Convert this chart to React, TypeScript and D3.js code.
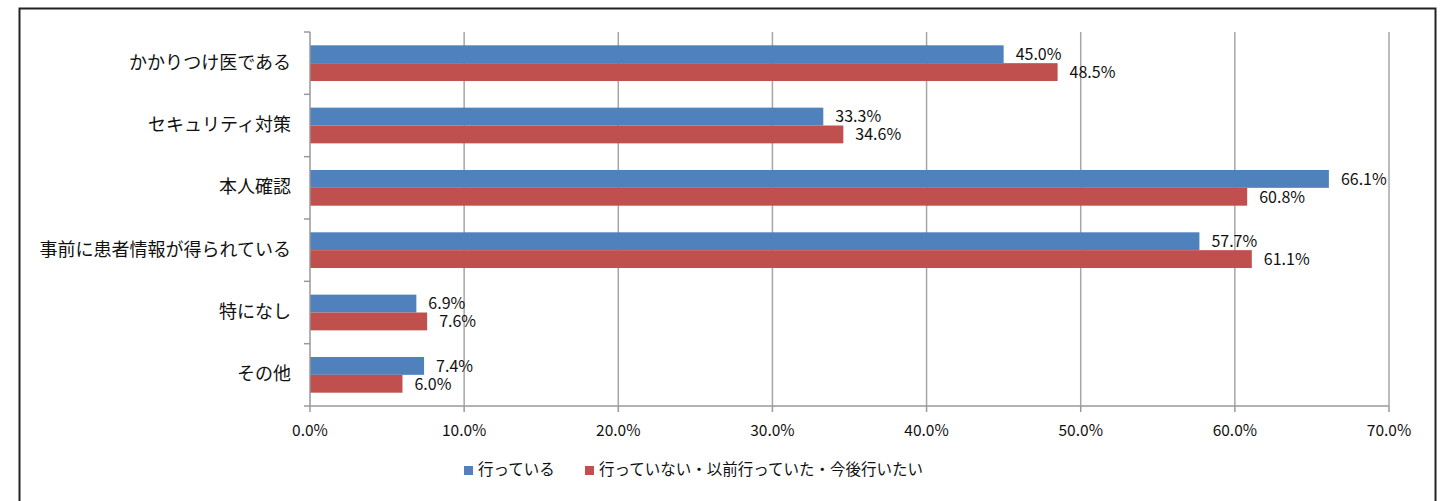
import React from "react";
import * as d3 from "d3";

const categories = [
  "かかりつけ医である",
  "セキュリティ対策",
  "本人確認",
  "事前に患者情報が得られている",
  "特になし",
  "その他",
];
const seriesNames = ["行っている", "行っていない・以前行っていた・今後行いたい"];
const doing = [45.0, 33.3, 66.1, 57.7, 6.9, 7.4];
const notDoing = [48.5, 34.6, 60.8, 61.1, 7.6, 6.0];
const xTicks = [0, 10, 20, 30, 40, 50, 60, 70];
const colors = ["#4F81BD", "#C0504D"];

const W = 1446;
const H = 501;
const margin = { left: 310, right: 57, top: 32, bottom: 95 };
const font = "'Noto Sans CJK JP', 'Noto Sans', sans-serif";

export default function App() {
  const x = d3.scaleLinear().domain([0, 70]).range([margin.left, W - margin.right]);
  const y = d3
    .scaleBand<string>()
    .domain(categories)
    .range([margin.top, H - margin.bottom])
    .paddingInner(0.427)
    .paddingOuter(0.2135);
  const inner = d3
    .scaleBand<number>()
    .domain([0, 1])
    .range([0, y.bandwidth()]);
  const series = [doing, notDoing];
  const bottom = H - margin.bottom;
  const step = y.step();

  return (
    <svg
      width={W}
      height={H}
      style={{ position: "absolute", left: 0, top: 0, background: "#fff" }}
      fontFamily={font}
    >
      <rect x={19.5} y={8.5} width={1416} height={520} fill="#fff" stroke="#222" strokeWidth={2} />

      {/* gridlines */}
      {xTicks.slice(1).map((t) => (
        <line key={t} x1={x(t)} x2={x(t)} y1={margin.top} y2={bottom} stroke="#a6a6a6" strokeWidth={1.5} />
      ))}

      {/* bars */}
      {categories.map((c, i) =>
        series.map((s, k) => (
          <g key={c + k}>
            <rect
              x={x(0)}
              y={(y(c) as number) + (inner(k) as number)}
              width={x(s[i]) - x(0)}
              height={inner.bandwidth()}
              fill={colors[k]}
            />
            <text
              x={x(s[i]) + 12}
              y={(y(c) as number) + (inner(k) as number) + inner.bandwidth() / 2 + 1.5}
              dominantBaseline="middle"
              fontSize={16}
              fill="#111"
            >
              {s[i].toFixed(1)}%
            </text>
          </g>
        ))
      )}

      {/* y axis */}
      <line x1={x(0)} x2={x(0)} y1={margin.top} y2={bottom} stroke="#999" strokeWidth={1.5} />
      {d3.range(categories.length + 1).map((i) => (
        <line
          key={i}
          x1={x(0) - 6}
          x2={x(0)}
          y1={margin.top + i * step}
          y2={margin.top + i * step}
          stroke="#999"
          strokeWidth={1.5}
        />
      ))}
      {categories.map((c) => (
        <text
          key={c}
          x={291}
          y={(y(c) as number) + y.bandwidth() / 2 + 0.5}
          textAnchor="end"
          dominantBaseline="middle"
          fontSize={18}
          fill="#111"
        >
          {c}
        </text>
      ))}

      {/* x axis */}
      <line x1={x(0)} x2={x(70)} y1={bottom} y2={bottom} stroke="#999" strokeWidth={1.5} />
      {xTicks.map((t) => (
        <g key={t}>
          <line x1={x(t)} x2={x(t)} y1={bottom} y2={bottom + 6} stroke="#999" strokeWidth={1.5} />
          <text x={x(t)} y={432} textAnchor="middle" dominantBaseline="middle" fontSize={15.5} fill="#111">
            {t.toFixed(1)}%
          </text>
        </g>
      ))}

      {/* legend */}
      {seriesNames.map((n, k) => {
        const lx = k === 0 ? 464 : 585;
        return (
          <g key={n}>
            <rect x={lx} y={466} width={9} height={9} fill={colors[k]} />
            <text x={lx + 14} y={471} dominantBaseline="middle" fontSize={15.5} fill="#111">
              {n}
            </text>
          </g>
        );
      })}
    </svg>
  );
}
